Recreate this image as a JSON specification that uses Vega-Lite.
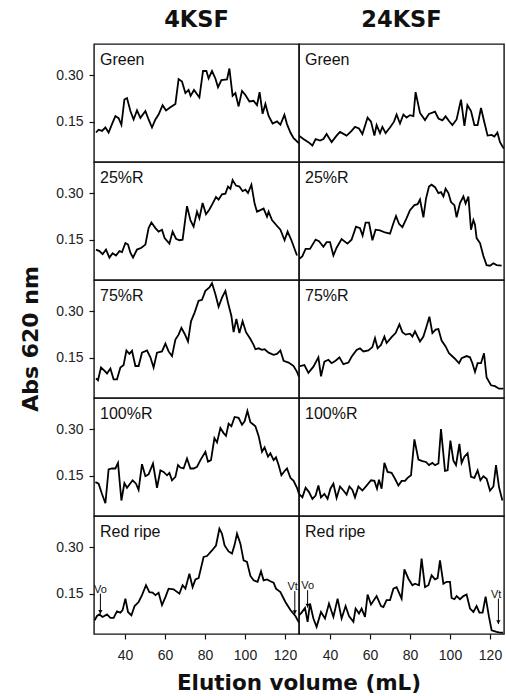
{
  "$schema": "https://vega.github.io/schema/vega-lite/v6.json",
  "padding": {"left": 19, "top": 8, "right": 0, "bottom": 0},
  "background": "white",
  "bounds": "flush",
  "data": {"values": [
    {"fiber":"4KSF","stage":"Green","vol":25.5,"abs":0.115},{"fiber":"4KSF","stage":"Green","vol":26.8,"abs":0.124},{"fiber":"4KSF","stage":"Green","vol":28.5,"abs":0.12},{"fiber":"4KSF","stage":"Green","vol":30.2,"abs":0.131},{"fiber":"4KSF","stage":"Green","vol":31.8,"abs":0.115},{"fiber":"4KSF","stage":"Green","vol":33.5,"abs":0.142},{"fiber":"4KSF","stage":"Green","vol":35.2,"abs":0.168},{"fiber":"4KSF","stage":"Green","vol":36.8,"abs":0.161},{"fiber":"4KSF","stage":"Green","vol":38.2,"abs":0.14},{"fiber":"4KSF","stage":"Green","vol":39.7,"abs":0.221},{"fiber":"4KSF","stage":"Green","vol":41.0,"abs":0.226},{"fiber":"4KSF","stage":"Green","vol":42.7,"abs":0.184},{"fiber":"4KSF","stage":"Green","vol":44.3,"abs":0.157},{"fiber":"4KSF","stage":"Green","vol":46.0,"abs":0.186},{"fiber":"4KSF","stage":"Green","vol":47.7,"abs":0.162},{"fiber":"4KSF","stage":"Green","vol":50.2,"abs":0.184},{"fiber":"4KSF","stage":"Green","vol":51.8,"abs":0.157},{"fiber":"4KSF","stage":"Green","vol":53.5,"abs":0.131},{"fiber":"4KSF","stage":"Green","vol":55.2,"abs":0.157},{"fiber":"4KSF","stage":"Green","vol":56.8,"abs":0.173},{"fiber":"4KSF","stage":"Green","vol":58.8,"abs":0.203},{"fiber":"4KSF","stage":"Green","vol":60.5,"abs":0.186},{"fiber":"4KSF","stage":"Green","vol":62.7,"abs":0.196},{"fiber":"4KSF","stage":"Green","vol":65.2,"abs":0.207},{"fiber":"4KSF","stage":"Green","vol":66.8,"abs":0.287},{"fiber":"4KSF","stage":"Green","vol":68.5,"abs":0.279},{"fiber":"4KSF","stage":"Green","vol":70.2,"abs":0.242},{"fiber":"4KSF","stage":"Green","vol":71.8,"abs":0.252},{"fiber":"4KSF","stage":"Green","vol":72.8,"abs":0.233},{"fiber":"4KSF","stage":"Green","vol":74.5,"abs":0.252},{"fiber":"4KSF","stage":"Green","vol":77.2,"abs":0.228},{"fiber":"4KSF","stage":"Green","vol":79.0,"abs":0.313},{"fiber":"4KSF","stage":"Green","vol":80.7,"abs":0.313},{"fiber":"4KSF","stage":"Green","vol":81.8,"abs":0.289},{"fiber":"4KSF","stage":"Green","vol":83.5,"abs":0.313},{"fiber":"4KSF","stage":"Green","vol":85.2,"abs":0.289},{"fiber":"4KSF","stage":"Green","vol":86.5,"abs":0.261},{"fiber":"4KSF","stage":"Green","vol":88.2,"abs":0.284},{"fiber":"4KSF","stage":"Green","vol":91.0,"abs":0.286},{"fiber":"4KSF","stage":"Green","vol":92.2,"abs":0.321},{"fiber":"4KSF","stage":"Green","vol":93.8,"abs":0.233},{"fiber":"4KSF","stage":"Green","vol":95.2,"abs":0.242},{"fiber":"4KSF","stage":"Green","vol":96.8,"abs":0.199},{"fiber":"4KSF","stage":"Green","vol":98.5,"abs":0.249},{"fiber":"4KSF","stage":"Green","vol":100.2,"abs":0.236},{"fiber":"4KSF","stage":"Green","vol":102.2,"abs":0.215},{"fiber":"4KSF","stage":"Green","vol":104.3,"abs":0.217},{"fiber":"4KSF","stage":"Green","vol":106.0,"abs":0.203},{"fiber":"4KSF","stage":"Green","vol":107.3,"abs":0.245},{"fiber":"4KSF","stage":"Green","vol":108.8,"abs":0.175},{"fiber":"4KSF","stage":"Green","vol":110.2,"abs":0.207},{"fiber":"4KSF","stage":"Green","vol":111.8,"abs":0.168},{"fiber":"4KSF","stage":"Green","vol":113.8,"abs":0.144},{"fiber":"4KSF","stage":"Green","vol":116.0,"abs":0.151},{"fiber":"4KSF","stage":"Green","vol":117.7,"abs":0.14},{"fiber":"4KSF","stage":"Green","vol":119.7,"abs":0.172},{"fiber":"4KSF","stage":"Green","vol":121.0,"abs":0.142},{"fiber":"4KSF","stage":"Green","vol":122.7,"abs":0.115},{"fiber":"4KSF","stage":"Green","vol":124.3,"abs":0.097},{"fiber":"4KSF","stage":"Green","vol":127.0,"abs":0.08},

    {"fiber":"24KSF","stage":"Green","vol":24.5,"abs":0.105},{"fiber":"24KSF","stage":"Green","vol":26.7,"abs":0.094},{"fiber":"24KSF","stage":"Green","vol":29.2,"abs":0.084},{"fiber":"24KSF","stage":"Green","vol":31.2,"abs":0.073},{"fiber":"24KSF","stage":"Green","vol":32.8,"abs":0.094},{"fiber":"24KSF","stage":"Green","vol":35.0,"abs":0.089},{"fiber":"24KSF","stage":"Green","vol":36.7,"abs":0.094},{"fiber":"24KSF","stage":"Green","vol":38.3,"abs":0.11},{"fiber":"24KSF","stage":"Green","vol":40.8,"abs":0.084},{"fiber":"24KSF","stage":"Green","vol":43.3,"abs":0.105},{"fiber":"24KSF","stage":"Green","vol":45.0,"abs":0.117},{"fiber":"24KSF","stage":"Green","vol":48.3,"abs":0.105},{"fiber":"24KSF","stage":"Green","vol":50.8,"abs":0.12},{"fiber":"24KSF","stage":"Green","vol":52.5,"abs":0.133},{"fiber":"24KSF","stage":"Green","vol":54.5,"abs":0.128},{"fiber":"24KSF","stage":"Green","vol":56.2,"abs":0.11},{"fiber":"24KSF","stage":"Green","vol":58.8,"abs":0.163},{"fiber":"24KSF","stage":"Green","vol":60.5,"abs":0.15},{"fiber":"24KSF","stage":"Green","vol":62.2,"abs":0.105},{"fiber":"24KSF","stage":"Green","vol":63.3,"abs":0.139},{"fiber":"24KSF","stage":"Green","vol":65.0,"abs":0.113},{"fiber":"24KSF","stage":"Green","vol":66.2,"abs":0.133},{"fiber":"24KSF","stage":"Green","vol":67.8,"abs":0.113},{"fiber":"24KSF","stage":"Green","vol":70.0,"abs":0.131},{"fiber":"24KSF","stage":"Green","vol":72.0,"abs":0.15},{"fiber":"24KSF","stage":"Green","vol":73.3,"abs":0.173},{"fiber":"24KSF","stage":"Green","vol":75.0,"abs":0.144},{"fiber":"24KSF","stage":"Green","vol":76.7,"abs":0.173},{"fiber":"24KSF","stage":"Green","vol":78.3,"abs":0.163},{"fiber":"24KSF","stage":"Green","vol":80.0,"abs":0.171},{"fiber":"24KSF","stage":"Green","vol":81.7,"abs":0.168},{"fiber":"24KSF","stage":"Green","vol":82.8,"abs":0.245},{"fiber":"24KSF","stage":"Green","vol":85.0,"abs":0.178},{"fiber":"24KSF","stage":"Green","vol":87.5,"abs":0.155},{"fiber":"24KSF","stage":"Green","vol":89.5,"abs":0.175},{"fiber":"24KSF","stage":"Green","vol":92.5,"abs":0.182},{"fiber":"24KSF","stage":"Green","vol":94.2,"abs":0.16},{"fiber":"24KSF","stage":"Green","vol":96.2,"abs":0.154},{"fiber":"24KSF","stage":"Green","vol":97.8,"abs":0.167},{"fiber":"24KSF","stage":"Green","vol":99.5,"abs":0.152},{"fiber":"24KSF","stage":"Green","vol":101.2,"abs":0.139},{"fiber":"24KSF","stage":"Green","vol":103.3,"abs":0.157},{"fiber":"24KSF","stage":"Green","vol":105.5,"abs":0.221},{"fiber":"24KSF","stage":"Green","vol":107.2,"abs":0.136},{"fiber":"24KSF","stage":"Green","vol":108.7,"abs":0.203},{"fiber":"24KSF","stage":"Green","vol":110.5,"abs":0.184},{"fiber":"24KSF","stage":"Green","vol":112.2,"abs":0.139},{"fiber":"24KSF","stage":"Green","vol":113.8,"abs":0.139},{"fiber":"24KSF","stage":"Green","vol":115.5,"abs":0.194},{"fiber":"24KSF","stage":"Green","vol":117.2,"abs":0.147},{"fiber":"24KSF","stage":"Green","vol":118.8,"abs":0.105},{"fiber":"24KSF","stage":"Green","vol":120.8,"abs":0.107},{"fiber":"24KSF","stage":"Green","vol":122.2,"abs":0.102},{"fiber":"24KSF","stage":"Green","vol":123.7,"abs":0.115},{"fiber":"24KSF","stage":"Green","vol":125.0,"abs":0.084},{"fiber":"24KSF","stage":"Green","vol":126.9,"abs":0.063},

    {"fiber":"4KSF","stage":"25%R","vol":25.5,"abs":0.118},{"fiber":"4KSF","stage":"25%R","vol":27.2,"abs":0.113},{"fiber":"4KSF","stage":"25%R","vol":28.8,"abs":0.103},{"fiber":"4KSF","stage":"25%R","vol":30.5,"abs":0.118},{"fiber":"4KSF","stage":"25%R","vol":32.2,"abs":0.092},{"fiber":"4KSF","stage":"25%R","vol":33.8,"abs":0.106},{"fiber":"4KSF","stage":"25%R","vol":35.5,"abs":0.099},{"fiber":"4KSF","stage":"25%R","vol":37.2,"abs":0.113},{"fiber":"4KSF","stage":"25%R","vol":38.5,"abs":0.11},{"fiber":"4KSF","stage":"25%R","vol":40.2,"abs":0.139},{"fiber":"4KSF","stage":"25%R","vol":41.5,"abs":0.134},{"fiber":"4KSF","stage":"25%R","vol":42.7,"abs":0.108},{"fiber":"4KSF","stage":"25%R","vol":44.0,"abs":0.092},{"fiber":"4KSF","stage":"25%R","vol":46.0,"abs":0.118},{"fiber":"4KSF","stage":"25%R","vol":48.2,"abs":0.124},{"fiber":"4KSF","stage":"25%R","vol":50.2,"abs":0.134},{"fiber":"4KSF","stage":"25%R","vol":51.8,"abs":0.187},{"fiber":"4KSF","stage":"25%R","vol":53.2,"abs":0.205},{"fiber":"4KSF","stage":"25%R","vol":55.2,"abs":0.187},{"fiber":"4KSF","stage":"25%R","vol":56.8,"abs":0.176},{"fiber":"4KSF","stage":"25%R","vol":58.5,"abs":0.182},{"fiber":"4KSF","stage":"25%R","vol":59.8,"abs":0.155},{"fiber":"4KSF","stage":"25%R","vol":62.2,"abs":0.137},{"fiber":"4KSF","stage":"25%R","vol":63.8,"abs":0.176},{"fiber":"4KSF","stage":"25%R","vol":65.5,"abs":0.153},{"fiber":"4KSF","stage":"25%R","vol":67.2,"abs":0.148},{"fiber":"4KSF","stage":"25%R","vol":68.8,"abs":0.15},{"fiber":"4KSF","stage":"25%R","vol":71.0,"abs":0.258},{"fiber":"4KSF","stage":"25%R","vol":72.7,"abs":0.213},{"fiber":"4KSF","stage":"25%R","vol":74.3,"abs":0.192},{"fiber":"4KSF","stage":"25%R","vol":76.0,"abs":0.24},{"fiber":"4KSF","stage":"25%R","vol":77.2,"abs":0.219},{"fiber":"4KSF","stage":"25%R","vol":78.8,"abs":0.268},{"fiber":"4KSF","stage":"25%R","vol":80.5,"abs":0.232},{"fiber":"4KSF","stage":"25%R","vol":82.2,"abs":0.247},{"fiber":"4KSF","stage":"25%R","vol":83.8,"abs":0.266},{"fiber":"4KSF","stage":"25%R","vol":85.5,"abs":0.287},{"fiber":"4KSF","stage":"25%R","vol":86.8,"abs":0.279},{"fiber":"4KSF","stage":"25%R","vol":88.5,"abs":0.296},{"fiber":"4KSF","stage":"25%R","vol":90.2,"abs":0.298},{"fiber":"4KSF","stage":"25%R","vol":91.5,"abs":0.321},{"fiber":"4KSF","stage":"25%R","vol":92.7,"abs":0.314},{"fiber":"4KSF","stage":"25%R","vol":93.8,"abs":0.342},{"fiber":"4KSF","stage":"25%R","vol":95.5,"abs":0.324},{"fiber":"4KSF","stage":"25%R","vol":97.2,"abs":0.321},{"fiber":"4KSF","stage":"25%R","vol":98.8,"abs":0.306},{"fiber":"4KSF","stage":"25%R","vol":100.2,"abs":0.311},{"fiber":"4KSF","stage":"25%R","vol":101.5,"abs":0.3},{"fiber":"4KSF","stage":"25%R","vol":103.2,"abs":0.327},{"fiber":"4KSF","stage":"25%R","vol":104.8,"abs":0.266},{"fiber":"4KSF","stage":"25%R","vol":106.0,"abs":0.24},{"fiber":"4KSF","stage":"25%R","vol":107.7,"abs":0.245},{"fiber":"4KSF","stage":"25%R","vol":109.3,"abs":0.25},{"fiber":"4KSF","stage":"25%R","vol":111.0,"abs":0.224},{"fiber":"4KSF","stage":"25%R","vol":111.8,"abs":0.24},{"fiber":"4KSF","stage":"25%R","vol":113.5,"abs":0.213},{"fiber":"4KSF","stage":"25%R","vol":115.5,"abs":0.198},{"fiber":"4KSF","stage":"25%R","vol":117.7,"abs":0.182},{"fiber":"4KSF","stage":"25%R","vol":119.8,"abs":0.148},{"fiber":"4KSF","stage":"25%R","vol":121.3,"abs":0.176},{"fiber":"4KSF","stage":"25%R","vol":123.2,"abs":0.148},{"fiber":"4KSF","stage":"25%R","vol":126.0,"abs":0.099},

    {"fiber":"24KSF","stage":"25%R","vol":24.5,"abs":0.087},{"fiber":"24KSF","stage":"25%R","vol":26.2,"abs":0.097},{"fiber":"24KSF","stage":"25%R","vol":27.8,"abs":0.12},{"fiber":"24KSF","stage":"25%R","vol":30.0,"abs":0.12},{"fiber":"24KSF","stage":"25%R","vol":32.8,"abs":0.15},{"fiber":"24KSF","stage":"25%R","vol":34.5,"abs":0.145},{"fiber":"24KSF","stage":"25%R","vol":36.7,"abs":0.127},{"fiber":"24KSF","stage":"25%R","vol":38.3,"abs":0.142},{"fiber":"24KSF","stage":"25%R","vol":40.0,"abs":0.142},{"fiber":"24KSF","stage":"25%R","vol":41.7,"abs":0.099},{"fiber":"24KSF","stage":"25%R","vol":43.3,"abs":0.124},{"fiber":"24KSF","stage":"25%R","vol":45.8,"abs":0.152},{"fiber":"24KSF","stage":"25%R","vol":48.7,"abs":0.137},{"fiber":"24KSF","stage":"25%R","vol":50.8,"abs":0.15},{"fiber":"24KSF","stage":"25%R","vol":53.0,"abs":0.192},{"fiber":"24KSF","stage":"25%R","vol":55.0,"abs":0.187},{"fiber":"24KSF","stage":"25%R","vol":56.3,"abs":0.163},{"fiber":"24KSF","stage":"25%R","vol":57.8,"abs":0.205},{"fiber":"24KSF","stage":"25%R","vol":59.5,"abs":0.205},{"fiber":"24KSF","stage":"25%R","vol":61.2,"abs":0.148},{"fiber":"24KSF","stage":"25%R","vol":62.8,"abs":0.182},{"fiber":"24KSF","stage":"25%R","vol":65.0,"abs":0.18},{"fiber":"24KSF","stage":"25%R","vol":67.5,"abs":0.173},{"fiber":"24KSF","stage":"25%R","vol":70.0,"abs":0.169},{"fiber":"24KSF","stage":"25%R","vol":71.7,"abs":0.203},{"fiber":"24KSF","stage":"25%R","vol":73.0,"abs":0.226},{"fiber":"24KSF","stage":"25%R","vol":74.5,"abs":0.201},{"fiber":"24KSF","stage":"25%R","vol":76.2,"abs":0.19},{"fiber":"24KSF","stage":"25%R","vol":78.3,"abs":0.219},{"fiber":"24KSF","stage":"25%R","vol":80.0,"abs":0.245},{"fiber":"24KSF","stage":"25%R","vol":82.2,"abs":0.261},{"fiber":"24KSF","stage":"25%R","vol":83.8,"abs":0.264},{"fiber":"24KSF","stage":"25%R","vol":85.0,"abs":0.279},{"fiber":"24KSF","stage":"25%R","vol":86.7,"abs":0.222},{"fiber":"24KSF","stage":"25%R","vol":88.0,"abs":0.282},{"fiber":"24KSF","stage":"25%R","vol":89.5,"abs":0.321},{"fiber":"24KSF","stage":"25%R","vol":90.8,"abs":0.327},{"fiber":"24KSF","stage":"25%R","vol":92.5,"abs":0.319},{"fiber":"24KSF","stage":"25%R","vol":94.2,"abs":0.3},{"fiber":"24KSF","stage":"25%R","vol":95.5,"abs":0.303},{"fiber":"24KSF","stage":"25%R","vol":96.7,"abs":0.289},{"fiber":"24KSF","stage":"25%R","vol":97.8,"abs":0.314},{"fiber":"24KSF","stage":"25%R","vol":99.2,"abs":0.3},{"fiber":"24KSF","stage":"25%R","vol":100.5,"abs":0.271},{"fiber":"24KSF","stage":"25%R","vol":102.2,"abs":0.261},{"fiber":"24KSF","stage":"25%R","vol":103.3,"abs":0.222},{"fiber":"24KSF","stage":"25%R","vol":105.0,"abs":0.268},{"fiber":"24KSF","stage":"25%R","vol":106.7,"abs":0.289},{"fiber":"24KSF","stage":"25%R","vol":107.8,"abs":0.266},{"fiber":"24KSF","stage":"25%R","vol":109.2,"abs":0.289},{"fiber":"24KSF","stage":"25%R","vol":110.5,"abs":0.182},{"fiber":"24KSF","stage":"25%R","vol":111.7,"abs":0.213},{"fiber":"24KSF","stage":"25%R","vol":112.5,"abs":0.198},{"fiber":"24KSF","stage":"25%R","vol":113.3,"abs":0.155},{"fiber":"24KSF","stage":"25%R","vol":115.0,"abs":0.139},{"fiber":"24KSF","stage":"25%R","vol":116.7,"abs":0.097},{"fiber":"24KSF","stage":"25%R","vol":118.3,"abs":0.068},{"fiber":"24KSF","stage":"25%R","vol":120.0,"abs":0.066},{"fiber":"24KSF","stage":"25%R","vol":121.7,"abs":0.074},{"fiber":"24KSF","stage":"25%R","vol":123.3,"abs":0.068},{"fiber":"24KSF","stage":"25%R","vol":125.8,"abs":0.066},

    {"fiber":"4KSF","stage":"75%R","vol":25.5,"abs":0.083},{"fiber":"4KSF","stage":"75%R","vol":26.5,"abs":0.077},{"fiber":"4KSF","stage":"75%R","vol":28.0,"abs":0.118},{"fiber":"4KSF","stage":"75%R","vol":29.7,"abs":0.108},{"fiber":"4KSF","stage":"75%R","vol":31.0,"abs":0.099},{"fiber":"4KSF","stage":"75%R","vol":32.7,"abs":0.115},{"fiber":"4KSF","stage":"75%R","vol":34.3,"abs":0.08},{"fiber":"4KSF","stage":"75%R","vol":36.0,"abs":0.08},{"fiber":"4KSF","stage":"75%R","vol":37.7,"abs":0.118},{"fiber":"4KSF","stage":"75%R","vol":39.3,"abs":0.126},{"fiber":"4KSF","stage":"75%R","vol":40.7,"abs":0.173},{"fiber":"4KSF","stage":"75%R","vol":42.2,"abs":0.162},{"fiber":"4KSF","stage":"75%R","vol":43.5,"abs":0.172},{"fiber":"4KSF","stage":"75%R","vol":45.2,"abs":0.123},{"fiber":"4KSF","stage":"75%R","vol":46.8,"abs":0.123},{"fiber":"4KSF","stage":"75%R","vol":48.5,"abs":0.166},{"fiber":"4KSF","stage":"75%R","vol":51.0,"abs":0.173},{"fiber":"4KSF","stage":"75%R","vol":52.7,"abs":0.151},{"fiber":"4KSF","stage":"75%R","vol":54.3,"abs":0.118},{"fiber":"4KSF","stage":"75%R","vol":56.0,"abs":0.166},{"fiber":"4KSF","stage":"75%R","vol":58.5,"abs":0.17},{"fiber":"4KSF","stage":"75%R","vol":60.2,"abs":0.195},{"fiber":"4KSF","stage":"75%R","vol":61.8,"abs":0.17},{"fiber":"4KSF","stage":"75%R","vol":63.5,"abs":0.155},{"fiber":"4KSF","stage":"75%R","vol":65.2,"abs":0.208},{"fiber":"4KSF","stage":"75%R","vol":66.8,"abs":0.224},{"fiber":"4KSF","stage":"75%R","vol":68.2,"abs":0.246},{"fiber":"4KSF","stage":"75%R","vol":69.8,"abs":0.227},{"fiber":"4KSF","stage":"75%R","vol":71.5,"abs":0.202},{"fiber":"4KSF","stage":"75%R","vol":73.0,"abs":0.267},{"fiber":"4KSF","stage":"75%R","vol":74.8,"abs":0.295},{"fiber":"4KSF","stage":"75%R","vol":76.8,"abs":0.333},{"fiber":"4KSF","stage":"75%R","vol":78.5,"abs":0.336},{"fiber":"4KSF","stage":"75%R","vol":80.2,"abs":0.365},{"fiber":"4KSF","stage":"75%R","vol":82.2,"abs":0.376},{"fiber":"4KSF","stage":"75%R","vol":83.5,"abs":0.39},{"fiber":"4KSF","stage":"75%R","vol":85.2,"abs":0.354},{"fiber":"4KSF","stage":"75%R","vol":86.8,"abs":0.314},{"fiber":"4KSF","stage":"75%R","vol":88.5,"abs":0.343},{"fiber":"4KSF","stage":"75%R","vol":90.2,"abs":0.365},{"fiber":"4KSF","stage":"75%R","vol":91.5,"abs":0.327},{"fiber":"4KSF","stage":"75%R","vol":93.2,"abs":0.284},{"fiber":"4KSF","stage":"75%R","vol":94.3,"abs":0.232},{"fiber":"4KSF","stage":"75%R","vol":95.7,"abs":0.275},{"fiber":"4KSF","stage":"75%R","vol":97.2,"abs":0.229},{"fiber":"4KSF","stage":"75%R","vol":98.8,"abs":0.267},{"fiber":"4KSF","stage":"75%R","vol":100.5,"abs":0.232},{"fiber":"4KSF","stage":"75%R","vol":102.7,"abs":0.21},{"fiber":"4KSF","stage":"75%R","vol":104.3,"abs":0.191},{"fiber":"4KSF","stage":"75%R","vol":105.2,"abs":0.177},{"fiber":"4KSF","stage":"75%R","vol":106.8,"abs":0.18},{"fiber":"4KSF","stage":"75%R","vol":108.5,"abs":0.175},{"fiber":"4KSF","stage":"75%R","vol":109.8,"abs":0.177},{"fiber":"4KSF","stage":"75%R","vol":111.8,"abs":0.166},{"fiber":"4KSF","stage":"75%R","vol":114.3,"abs":0.159},{"fiber":"4KSF","stage":"75%R","vol":116.0,"abs":0.162},{"fiber":"4KSF","stage":"75%R","vol":117.7,"abs":0.173},{"fiber":"4KSF","stage":"75%R","vol":119.3,"abs":0.14},{"fiber":"4KSF","stage":"75%R","vol":121.8,"abs":0.134},{"fiber":"4KSF","stage":"75%R","vol":124.3,"abs":0.123},{"fiber":"4KSF","stage":"75%R","vol":126.0,"abs":0.104},{"fiber":"4KSF","stage":"75%R","vol":127.0,"abs":0.088},

    {"fiber":"24KSF","stage":"75%R","vol":25.0,"abs":0.123},{"fiber":"24KSF","stage":"75%R","vol":27.2,"abs":0.126},{"fiber":"24KSF","stage":"75%R","vol":29.2,"abs":0.101},{"fiber":"24KSF","stage":"75%R","vol":31.7,"abs":0.121},{"fiber":"24KSF","stage":"75%R","vol":34.2,"abs":0.151},{"fiber":"24KSF","stage":"75%R","vol":35.5,"abs":0.09},{"fiber":"24KSF","stage":"75%R","vol":37.2,"abs":0.137},{"fiber":"24KSF","stage":"75%R","vol":39.2,"abs":0.143},{"fiber":"24KSF","stage":"75%R","vol":40.8,"abs":0.132},{"fiber":"24KSF","stage":"75%R","vol":42.8,"abs":0.14},{"fiber":"24KSF","stage":"75%R","vol":44.7,"abs":0.151},{"fiber":"24KSF","stage":"75%R","vol":46.7,"abs":0.129},{"fiber":"24KSF","stage":"75%R","vol":49.2,"abs":0.134},{"fiber":"24KSF","stage":"75%R","vol":50.8,"abs":0.153},{"fiber":"24KSF","stage":"75%R","vol":53.3,"abs":0.175},{"fiber":"24KSF","stage":"75%R","vol":55.0,"abs":0.18},{"fiber":"24KSF","stage":"75%R","vol":56.7,"abs":0.17},{"fiber":"24KSF","stage":"75%R","vol":59.2,"abs":0.173},{"fiber":"24KSF","stage":"75%R","vol":61.2,"abs":0.184},{"fiber":"24KSF","stage":"75%R","vol":62.5,"abs":0.213},{"fiber":"24KSF","stage":"75%R","vol":63.8,"abs":0.18},{"fiber":"24KSF","stage":"75%R","vol":65.5,"abs":0.191},{"fiber":"24KSF","stage":"75%R","vol":67.2,"abs":0.218},{"fiber":"24KSF","stage":"75%R","vol":68.3,"abs":0.197},{"fiber":"24KSF","stage":"75%R","vol":70.8,"abs":0.216},{"fiber":"24KSF","stage":"75%R","vol":72.8,"abs":0.229},{"fiber":"24KSF","stage":"75%R","vol":74.7,"abs":0.257},{"fiber":"24KSF","stage":"75%R","vol":76.2,"abs":0.232},{"fiber":"24KSF","stage":"75%R","vol":77.8,"abs":0.224},{"fiber":"24KSF","stage":"75%R","vol":80.0,"abs":0.227},{"fiber":"24KSF","stage":"75%R","vol":81.2,"abs":0.218},{"fiber":"24KSF","stage":"75%R","vol":82.5,"abs":0.235},{"fiber":"24KSF","stage":"75%R","vol":85.0,"abs":0.202},{"fiber":"24KSF","stage":"75%R","vol":86.7,"abs":0.218},{"fiber":"24KSF","stage":"75%R","vol":88.3,"abs":0.251},{"fiber":"24KSF","stage":"75%R","vol":89.7,"abs":0.282},{"fiber":"24KSF","stage":"75%R","vol":91.2,"abs":0.229},{"fiber":"24KSF","stage":"75%R","vol":92.8,"abs":0.24},{"fiber":"24KSF","stage":"75%R","vol":94.2,"abs":0.242},{"fiber":"24KSF","stage":"75%R","vol":95.8,"abs":0.205},{"fiber":"24KSF","stage":"75%R","vol":97.8,"abs":0.186},{"fiber":"24KSF","stage":"75%R","vol":99.5,"abs":0.164},{"fiber":"24KSF","stage":"75%R","vol":102.2,"abs":0.148},{"fiber":"24KSF","stage":"75%R","vol":104.5,"abs":0.132},{"fiber":"24KSF","stage":"75%R","vol":105.8,"abs":0.148},{"fiber":"24KSF","stage":"75%R","vol":108.3,"abs":0.155},{"fiber":"24KSF","stage":"75%R","vol":110.0,"abs":0.151},{"fiber":"24KSF","stage":"75%R","vol":111.2,"abs":0.132},{"fiber":"24KSF","stage":"75%R","vol":112.5,"abs":0.104},{"fiber":"24KSF","stage":"75%R","vol":113.8,"abs":0.132},{"fiber":"24KSF","stage":"75%R","vol":115.5,"abs":0.132},{"fiber":"24KSF","stage":"75%R","vol":117.0,"abs":0.164},{"fiber":"24KSF","stage":"75%R","vol":118.3,"abs":0.086},{"fiber":"24KSF","stage":"75%R","vol":120.5,"abs":0.061},{"fiber":"24KSF","stage":"75%R","vol":122.5,"abs":0.058},{"fiber":"24KSF","stage":"75%R","vol":124.5,"abs":0.05},{"fiber":"24KSF","stage":"75%R","vol":126.7,"abs":0.05},

    {"fiber":"4KSF","stage":"100%R","vol":25.2,"abs":0.129},{"fiber":"4KSF","stage":"100%R","vol":26.8,"abs":0.124},{"fiber":"4KSF","stage":"100%R","vol":28.5,"abs":0.091},{"fiber":"4KSF","stage":"100%R","vol":30.2,"abs":0.061},{"fiber":"4KSF","stage":"100%R","vol":31.8,"abs":0.17},{"fiber":"4KSF","stage":"100%R","vol":33.5,"abs":0.173},{"fiber":"4KSF","stage":"100%R","vol":35.2,"abs":0.173},{"fiber":"4KSF","stage":"100%R","vol":36.5,"abs":0.191},{"fiber":"4KSF","stage":"100%R","vol":38.2,"abs":0.07},{"fiber":"4KSF","stage":"100%R","vol":39.7,"abs":0.126},{"fiber":"4KSF","stage":"100%R","vol":41.0,"abs":0.111},{"fiber":"4KSF","stage":"100%R","vol":43.8,"abs":0.135},{"fiber":"4KSF","stage":"100%R","vol":45.5,"abs":0.124},{"fiber":"4KSF","stage":"100%R","vol":46.8,"abs":0.104},{"fiber":"4KSF","stage":"100%R","vol":48.5,"abs":0.187},{"fiber":"4KSF","stage":"100%R","vol":50.2,"abs":0.148},{"fiber":"4KSF","stage":"100%R","vol":51.8,"abs":0.154},{"fiber":"4KSF","stage":"100%R","vol":54.0,"abs":0.189},{"fiber":"4KSF","stage":"100%R","vol":56.0,"abs":0.111},{"fiber":"4KSF","stage":"100%R","vol":57.7,"abs":0.167},{"fiber":"4KSF","stage":"100%R","vol":59.3,"abs":0.162},{"fiber":"4KSF","stage":"100%R","vol":61.0,"abs":0.151},{"fiber":"4KSF","stage":"100%R","vol":62.2,"abs":0.159},{"fiber":"4KSF","stage":"100%R","vol":63.5,"abs":0.135},{"fiber":"4KSF","stage":"100%R","vol":65.2,"abs":0.146},{"fiber":"4KSF","stage":"100%R","vol":66.5,"abs":0.184},{"fiber":"4KSF","stage":"100%R","vol":67.7,"abs":0.176},{"fiber":"4KSF","stage":"100%R","vol":69.3,"abs":0.173},{"fiber":"4KSF","stage":"100%R","vol":71.0,"abs":0.205},{"fiber":"4KSF","stage":"100%R","vol":72.7,"abs":0.173},{"fiber":"4KSF","stage":"100%R","vol":74.3,"abs":0.173},{"fiber":"4KSF","stage":"100%R","vol":76.0,"abs":0.178},{"fiber":"4KSF","stage":"100%R","vol":77.7,"abs":0.2},{"fiber":"4KSF","stage":"100%R","vol":80.2,"abs":0.227},{"fiber":"4KSF","stage":"100%R","vol":81.5,"abs":0.195},{"fiber":"4KSF","stage":"100%R","vol":83.0,"abs":0.2},{"fiber":"4KSF","stage":"100%R","vol":84.7,"abs":0.271},{"fiber":"4KSF","stage":"100%R","vol":86.0,"abs":0.257},{"fiber":"4KSF","stage":"100%R","vol":87.7,"abs":0.303},{"fiber":"4KSF","stage":"100%R","vol":89.3,"abs":0.287},{"fiber":"4KSF","stage":"100%R","vol":90.5,"abs":0.278},{"fiber":"4KSF","stage":"100%R","vol":91.8,"abs":0.317},{"fiber":"4KSF","stage":"100%R","vol":93.2,"abs":0.309},{"fiber":"4KSF","stage":"100%R","vol":94.8,"abs":0.339},{"fiber":"4KSF","stage":"100%R","vol":96.8,"abs":0.336},{"fiber":"4KSF","stage":"100%R","vol":98.5,"abs":0.314},{"fiber":"4KSF","stage":"100%R","vol":99.8,"abs":0.325},{"fiber":"4KSF","stage":"100%R","vol":101.2,"abs":0.358},{"fiber":"4KSF","stage":"100%R","vol":102.7,"abs":0.322},{"fiber":"4KSF","stage":"100%R","vol":105.2,"abs":0.309},{"fiber":"4KSF","stage":"100%R","vol":106.8,"abs":0.278},{"fiber":"4KSF","stage":"100%R","vol":108.5,"abs":0.227},{"fiber":"4KSF","stage":"100%R","vol":109.8,"abs":0.241},{"fiber":"4KSF","stage":"100%R","vol":111.5,"abs":0.211},{"fiber":"4KSF","stage":"100%R","vol":112.7,"abs":0.222},{"fiber":"4KSF","stage":"100%R","vol":114.3,"abs":0.2},{"fiber":"4KSF","stage":"100%R","vol":115.5,"abs":0.209},{"fiber":"4KSF","stage":"100%R","vol":116.8,"abs":0.184},{"fiber":"4KSF","stage":"100%R","vol":118.2,"abs":0.151},{"fiber":"4KSF","stage":"100%R","vol":119.8,"abs":0.165},{"fiber":"4KSF","stage":"100%R","vol":121.0,"abs":0.173},{"fiber":"4KSF","stage":"100%R","vol":122.7,"abs":0.143},{"fiber":"4KSF","stage":"100%R","vol":124.3,"abs":0.133},{"fiber":"4KSF","stage":"100%R","vol":126.0,"abs":0.111},{"fiber":"4KSF","stage":"100%R","vol":127.0,"abs":0.091},

    {"fiber":"24KSF","stage":"100%R","vol":24.5,"abs":0.091},{"fiber":"24KSF","stage":"100%R","vol":26.2,"abs":0.08},{"fiber":"24KSF","stage":"100%R","vol":27.8,"abs":0.111},{"fiber":"24KSF","stage":"100%R","vol":29.5,"abs":0.097},{"fiber":"24KSF","stage":"100%R","vol":31.2,"abs":0.075},{"fiber":"24KSF","stage":"100%R","vol":32.8,"abs":0.086},{"fiber":"24KSF","stage":"100%R","vol":34.2,"abs":0.118},{"fiber":"24KSF","stage":"100%R","vol":35.5,"abs":0.08},{"fiber":"24KSF","stage":"100%R","vol":37.2,"abs":0.091},{"fiber":"24KSF","stage":"100%R","vol":38.8,"abs":0.075},{"fiber":"24KSF","stage":"100%R","vol":40.2,"abs":0.108},{"fiber":"24KSF","stage":"100%R","vol":41.7,"abs":0.124},{"fiber":"24KSF","stage":"100%R","vol":43.3,"abs":0.078},{"fiber":"24KSF","stage":"100%R","vol":45.0,"abs":0.115},{"fiber":"24KSF","stage":"100%R","vol":46.7,"abs":0.102},{"fiber":"24KSF","stage":"100%R","vol":48.3,"abs":0.089},{"fiber":"24KSF","stage":"100%R","vol":49.7,"abs":0.115},{"fiber":"24KSF","stage":"100%R","vol":51.2,"abs":0.104},{"fiber":"24KSF","stage":"100%R","vol":52.5,"abs":0.08},{"fiber":"24KSF","stage":"100%R","vol":54.2,"abs":0.115},{"fiber":"24KSF","stage":"100%R","vol":56.2,"abs":0.102},{"fiber":"24KSF","stage":"100%R","vol":58.3,"abs":0.118},{"fiber":"24KSF","stage":"100%R","vol":60.5,"abs":0.135},{"fiber":"24KSF","stage":"100%R","vol":62.2,"abs":0.133},{"fiber":"24KSF","stage":"100%R","vol":63.5,"abs":0.108},{"fiber":"24KSF","stage":"100%R","vol":64.5,"abs":0.137},{"fiber":"24KSF","stage":"100%R","vol":65.8,"abs":0.108},{"fiber":"24KSF","stage":"100%R","vol":67.2,"abs":0.191},{"fiber":"24KSF","stage":"100%R","vol":68.8,"abs":0.162},{"fiber":"24KSF","stage":"100%R","vol":70.8,"abs":0.159},{"fiber":"24KSF","stage":"100%R","vol":72.5,"abs":0.14},{"fiber":"24KSF","stage":"100%R","vol":74.2,"abs":0.118},{"fiber":"24KSF","stage":"100%R","vol":75.8,"abs":0.133},{"fiber":"24KSF","stage":"100%R","vol":77.5,"abs":0.133},{"fiber":"24KSF","stage":"100%R","vol":78.8,"abs":0.143},{"fiber":"24KSF","stage":"100%R","vol":80.5,"abs":0.151},{"fiber":"24KSF","stage":"100%R","vol":82.2,"abs":0.267},{"fiber":"24KSF","stage":"100%R","vol":84.2,"abs":0.202},{"fiber":"24KSF","stage":"100%R","vol":86.2,"abs":0.197},{"fiber":"24KSF","stage":"100%R","vol":88.0,"abs":0.194},{"fiber":"24KSF","stage":"100%R","vol":89.5,"abs":0.184},{"fiber":"24KSF","stage":"100%R","vol":91.2,"abs":0.191},{"fiber":"24KSF","stage":"100%R","vol":92.5,"abs":0.184},{"fiber":"24KSF","stage":"100%R","vol":94.2,"abs":0.189},{"fiber":"24KSF","stage":"100%R","vol":95.5,"abs":0.3},{"fiber":"24KSF","stage":"100%R","vol":97.5,"abs":0.165},{"fiber":"24KSF","stage":"100%R","vol":98.8,"abs":0.167},{"fiber":"24KSF","stage":"100%R","vol":100.2,"abs":0.263},{"fiber":"24KSF","stage":"100%R","vol":101.7,"abs":0.198},{"fiber":"24KSF","stage":"100%R","vol":103.0,"abs":0.184},{"fiber":"24KSF","stage":"100%R","vol":104.7,"abs":0.252},{"fiber":"24KSF","stage":"100%R","vol":105.8,"abs":0.191},{"fiber":"24KSF","stage":"100%R","vol":107.2,"abs":0.211},{"fiber":"24KSF","stage":"100%R","vol":108.8,"abs":0.222},{"fiber":"24KSF","stage":"100%R","vol":110.5,"abs":0.146},{"fiber":"24KSF","stage":"100%R","vol":112.2,"abs":0.143},{"fiber":"24KSF","stage":"100%R","vol":113.8,"abs":0.167},{"fiber":"24KSF","stage":"100%R","vol":115.2,"abs":0.135},{"fiber":"24KSF","stage":"100%R","vol":116.7,"abs":0.148},{"fiber":"24KSF","stage":"100%R","vol":118.3,"abs":0.14},{"fiber":"24KSF","stage":"100%R","vol":120.0,"abs":0.102},{"fiber":"24KSF","stage":"100%R","vol":121.7,"abs":0.115},{"fiber":"24KSF","stage":"100%R","vol":123.0,"abs":0.184},{"fiber":"24KSF","stage":"100%R","vol":124.5,"abs":0.113},{"fiber":"24KSF","stage":"100%R","vol":126.2,"abs":0.07},

    {"fiber":"4KSF","stage":"Red ripe","vol":24.8,"abs":0.064},{"fiber":"4KSF","stage":"Red ripe","vol":26.0,"abs":0.078},{"fiber":"4KSF","stage":"Red ripe","vol":27.2,"abs":0.083},{"fiber":"4KSF","stage":"Red ripe","vol":28.8,"abs":0.075},{"fiber":"4KSF","stage":"Red ripe","vol":31.0,"abs":0.083},{"fiber":"4KSF","stage":"Red ripe","vol":32.7,"abs":0.072},{"fiber":"4KSF","stage":"Red ripe","vol":34.3,"abs":0.072},{"fiber":"4KSF","stage":"Red ripe","vol":36.0,"abs":0.093},{"fiber":"4KSF","stage":"Red ripe","vol":37.7,"abs":0.089},{"fiber":"4KSF","stage":"Red ripe","vol":38.8,"abs":0.097},{"fiber":"4KSF","stage":"Red ripe","vol":40.2,"abs":0.134},{"fiber":"4KSF","stage":"Red ripe","vol":41.5,"abs":0.091},{"fiber":"4KSF","stage":"Red ripe","vol":43.2,"abs":0.08},{"fiber":"4KSF","stage":"Red ripe","vol":44.8,"abs":0.11},{"fiber":"4KSF","stage":"Red ripe","vol":46.8,"abs":0.123},{"fiber":"4KSF","stage":"Red ripe","vol":48.5,"abs":0.145},{"fiber":"4KSF","stage":"Red ripe","vol":50.5,"abs":0.177},{"fiber":"4KSF","stage":"Red ripe","vol":52.2,"abs":0.155},{"fiber":"4KSF","stage":"Red ripe","vol":53.8,"abs":0.153},{"fiber":"4KSF","stage":"Red ripe","vol":55.2,"abs":0.145},{"fiber":"4KSF","stage":"Red ripe","vol":56.8,"abs":0.153},{"fiber":"4KSF","stage":"Red ripe","vol":58.5,"abs":0.113},{"fiber":"4KSF","stage":"Red ripe","vol":60.2,"abs":0.139},{"fiber":"4KSF","stage":"Red ripe","vol":61.8,"abs":0.166},{"fiber":"4KSF","stage":"Red ripe","vol":64.3,"abs":0.164},{"fiber":"4KSF","stage":"Red ripe","vol":67.2,"abs":0.15},{"fiber":"4KSF","stage":"Red ripe","vol":68.8,"abs":0.177},{"fiber":"4KSF","stage":"Red ripe","vol":70.2,"abs":0.166},{"fiber":"4KSF","stage":"Red ripe","vol":72.2,"abs":0.214},{"fiber":"4KSF","stage":"Red ripe","vol":73.8,"abs":0.171},{"fiber":"4KSF","stage":"Red ripe","vol":75.2,"abs":0.196},{"fiber":"4KSF","stage":"Red ripe","vol":76.8,"abs":0.2},{"fiber":"4KSF","stage":"Red ripe","vol":79.3,"abs":0.268},{"fiber":"4KSF","stage":"Red ripe","vol":81.0,"abs":0.271},{"fiber":"4KSF","stage":"Red ripe","vol":83.5,"abs":0.289},{"fiber":"4KSF","stage":"Red ripe","vol":85.5,"abs":0.305},{"fiber":"4KSF","stage":"Red ripe","vol":87.2,"abs":0.359},{"fiber":"4KSF","stage":"Red ripe","vol":88.5,"abs":0.343},{"fiber":"4KSF","stage":"Red ripe","vol":89.8,"abs":0.305},{"fiber":"4KSF","stage":"Red ripe","vol":91.8,"abs":0.286},{"fiber":"4KSF","stage":"Red ripe","vol":93.5,"abs":0.279},{"fiber":"4KSF","stage":"Red ripe","vol":94.8,"abs":0.307},{"fiber":"4KSF","stage":"Red ripe","vol":96.0,"abs":0.343},{"fiber":"4KSF","stage":"Red ripe","vol":97.7,"abs":0.311},{"fiber":"4KSF","stage":"Red ripe","vol":99.3,"abs":0.257},{"fiber":"4KSF","stage":"Red ripe","vol":101.0,"abs":0.252},{"fiber":"4KSF","stage":"Red ripe","vol":102.7,"abs":0.207},{"fiber":"4KSF","stage":"Red ripe","vol":104.3,"abs":0.193},{"fiber":"4KSF","stage":"Red ripe","vol":106.3,"abs":0.188},{"fiber":"4KSF","stage":"Red ripe","vol":108.0,"abs":0.222},{"fiber":"4KSF","stage":"Red ripe","vol":109.3,"abs":0.193},{"fiber":"4KSF","stage":"Red ripe","vol":111.0,"abs":0.196},{"fiber":"4KSF","stage":"Red ripe","vol":112.7,"abs":0.19},{"fiber":"4KSF","stage":"Red ripe","vol":114.3,"abs":0.185},{"fiber":"4KSF","stage":"Red ripe","vol":115.5,"abs":0.166},{"fiber":"4KSF","stage":"Red ripe","vol":117.7,"abs":0.155},{"fiber":"4KSF","stage":"Red ripe","vol":120.2,"abs":0.123},{"fiber":"4KSF","stage":"Red ripe","vol":122.7,"abs":0.097},{"fiber":"4KSF","stage":"Red ripe","vol":125.2,"abs":0.078},{"fiber":"4KSF","stage":"Red ripe","vol":127.0,"abs":0.057},

    {"fiber":"24KSF","stage":"Red ripe","vol":24.5,"abs":0.08},{"fiber":"24KSF","stage":"Red ripe","vol":25.8,"abs":0.089},{"fiber":"24KSF","stage":"Red ripe","vol":27.5,"abs":0.104},{"fiber":"24KSF","stage":"Red ripe","vol":28.8,"abs":0.059},{"fiber":"24KSF","stage":"Red ripe","vol":30.0,"abs":0.118},{"fiber":"24KSF","stage":"Red ripe","vol":31.7,"abs":0.07},{"fiber":"24KSF","stage":"Red ripe","vol":33.3,"abs":0.043},{"fiber":"24KSF","stage":"Red ripe","vol":35.5,"abs":0.091},{"fiber":"24KSF","stage":"Red ripe","vol":37.5,"abs":0.07},{"fiber":"24KSF","stage":"Red ripe","vol":39.5,"abs":0.118},{"fiber":"24KSF","stage":"Red ripe","vol":41.7,"abs":0.075},{"fiber":"24KSF","stage":"Red ripe","vol":43.8,"abs":0.134},{"fiber":"24KSF","stage":"Red ripe","vol":45.8,"abs":0.07},{"fiber":"24KSF","stage":"Red ripe","vol":47.8,"abs":0.11},{"fiber":"24KSF","stage":"Red ripe","vol":49.5,"abs":0.078},{"fiber":"24KSF","stage":"Red ripe","vol":51.7,"abs":0.059},{"fiber":"24KSF","stage":"Red ripe","vol":52.8,"abs":0.102},{"fiber":"24KSF","stage":"Red ripe","vol":54.5,"abs":0.086},{"fiber":"24KSF","stage":"Red ripe","vol":55.8,"abs":0.102},{"fiber":"24KSF","stage":"Red ripe","vol":57.5,"abs":0.075},{"fiber":"24KSF","stage":"Red ripe","vol":58.8,"abs":0.147},{"fiber":"24KSF","stage":"Red ripe","vol":60.5,"abs":0.115},{"fiber":"24KSF","stage":"Red ripe","vol":63.3,"abs":0.142},{"fiber":"24KSF","stage":"Red ripe","vol":65.5,"abs":0.11},{"fiber":"24KSF","stage":"Red ripe","vol":66.7,"abs":0.107},{"fiber":"24KSF","stage":"Red ripe","vol":68.3,"abs":0.129},{"fiber":"24KSF","stage":"Red ripe","vol":70.0,"abs":0.129},{"fiber":"24KSF","stage":"Red ripe","vol":71.7,"abs":0.166},{"fiber":"24KSF","stage":"Red ripe","vol":73.3,"abs":0.171},{"fiber":"24KSF","stage":"Red ripe","vol":75.8,"abs":0.134},{"fiber":"24KSF","stage":"Red ripe","vol":77.2,"abs":0.228},{"fiber":"24KSF","stage":"Red ripe","vol":79.2,"abs":0.198},{"fiber":"24KSF","stage":"Red ripe","vol":81.2,"abs":0.177},{"fiber":"24KSF","stage":"Red ripe","vol":82.5,"abs":0.182},{"fiber":"24KSF","stage":"Red ripe","vol":84.5,"abs":0.177},{"fiber":"24KSF","stage":"Red ripe","vol":85.8,"abs":0.263},{"fiber":"24KSF","stage":"Red ripe","vol":87.5,"abs":0.171},{"fiber":"24KSF","stage":"Red ripe","vol":89.2,"abs":0.177},{"fiber":"24KSF","stage":"Red ripe","vol":90.8,"abs":0.209},{"fiber":"24KSF","stage":"Red ripe","vol":92.5,"abs":0.196},{"fiber":"24KSF","stage":"Red ripe","vol":93.8,"abs":0.2},{"fiber":"24KSF","stage":"Red ripe","vol":95.0,"abs":0.257},{"fiber":"24KSF","stage":"Red ripe","vol":96.7,"abs":0.182},{"fiber":"24KSF","stage":"Red ripe","vol":98.3,"abs":0.188},{"fiber":"24KSF","stage":"Red ripe","vol":100.0,"abs":0.188},{"fiber":"24KSF","stage":"Red ripe","vol":100.8,"abs":0.136},{"fiber":"24KSF","stage":"Red ripe","vol":102.2,"abs":0.132},{"fiber":"24KSF","stage":"Red ripe","vol":103.3,"abs":0.142},{"fiber":"24KSF","stage":"Red ripe","vol":105.0,"abs":0.132},{"fiber":"24KSF","stage":"Red ripe","vol":106.7,"abs":0.142},{"fiber":"24KSF","stage":"Red ripe","vol":108.3,"abs":0.147},{"fiber":"24KSF","stage":"Red ripe","vol":110.0,"abs":0.102},{"fiber":"24KSF","stage":"Red ripe","vol":111.7,"abs":0.091},{"fiber":"24KSF","stage":"Red ripe","vol":113.3,"abs":0.11},{"fiber":"24KSF","stage":"Red ripe","vol":114.7,"abs":0.089},{"fiber":"24KSF","stage":"Red ripe","vol":116.3,"abs":0.089},{"fiber":"24KSF","stage":"Red ripe","vol":117.8,"abs":0.14},{"fiber":"24KSF","stage":"Red ripe","vol":119.5,"abs":0.075},{"fiber":"24KSF","stage":"Red ripe","vol":120.8,"abs":0.032},{"fiber":"24KSF","stage":"Red ripe","vol":123.3,"abs":0.027},{"fiber":"24KSF","stage":"Red ripe","vol":124.5,"abs":0.025},{"fiber":"24KSF","stage":"Red ripe","vol":126.5,"abs":0.024},

    {"fiber":"4KSF","stage":"Red ripe","tag":"Vo","vol":27.7,"top":0.15,"tip":0.085},
    {"fiber":"4KSF","stage":"Red ripe","tag":"Vt","vol":124.9,"top":0.158,"tip":0.084},
    {"fiber":"24KSF","stage":"Red ripe","tag":"Vo","vol":28.8,"top":0.161,"tip":0.105},
    {"fiber":"24KSF","stage":"Red ripe","tag":"Vt","vol":124.2,"top":0.134,"tip":0.052}
  ]},
  "facet": {
    "column": {
      "field": "fiber", "type": "nominal", "sort": ["4KSF", "24KSF"],
      "header": {
        "title": "Elution volume (mL)", "titleOrient": "bottom", "labelOrient": "top",
        "titleFont": "DejaVu Sans", "titleFontSize": 21.5, "titleFontWeight": "bold", "titleColor": "#111", "titlePadding": 1,
        "labelFont": "DejaVu Sans", "labelFontSize": 22.5, "labelFontWeight": "bold", "labelColor": "#111", "labelPadding": 13
      }
    },
    "row": {
      "field": "stage", "type": "nominal", "sort": ["Green", "25%R", "75%R", "100%R", "Red ripe"],
      "header": {
        "title": "Abs 620 nm", "titleOrient": "left", "labels": false,
        "titleFont": "DejaVu Sans", "titleFontSize": 22, "titleFontWeight": "bold", "titleColor": "#111", "titlePadding": 2
      }
    }
  },
  "spacing": {"row": 0, "column": 0},
  "spec": {
    "width": 205,
    "height": 118,
    "layer": [
      {
        "transform": [{"filter": "isValid(datum.abs)"}],
        "mark": {"type": "line", "color": "#000", "strokeWidth": 1.8, "strokeJoin": "miter", "clip": true},
        "encoding": {
          "x": {"field": "vol", "type": "quantitative",
                "scale": {"domain": [24.5, 127], "nice": false, "zero": false},
                "axis": {"values": [40, 60, 80, 100, 120], "title": null, "labelPadding": 9}},
          "y": {"field": "abs", "type": "quantitative",
                "scale": {"domain": [0.02, 0.4], "nice": false, "zero": false},
                "axis": {"values": [0.15, 0.3], "format": ".2f", "title": null, "labelPadding": 6}},
          "order": {"field": "vol", "type": "quantitative"}
        }
      },
      {
        "transform": [
          {"filter": "isValid(datum.abs)"},
          {"aggregate": [{"op": "count", "as": "n"}], "groupby": ["fiber", "stage"]}
        ],
        "mark": {"type": "text", "align": "left", "baseline": "top", "font": "Liberation Sans", "fontSize": 16, "color": "#111"},
        "encoding": {
          "x": {"datum": 27.5},
          "y": {"datum": 0.375},
          "text": {"field": "stage"}
        }
      },
      {
        "transform": [{"filter": "isValid(datum.tag)"}],
        "mark": {"type": "rule", "color": "#000", "strokeWidth": 1},
        "encoding": {
          "x": {"field": "vol", "type": "quantitative"},
          "y": {"field": "top", "type": "quantitative"},
          "y2": {"field": "tip"}
        }
      },
      {
        "transform": [{"filter": "isValid(datum.tag)"}],
        "mark": {"type": "point", "shape": "triangle-down", "filled": true, "color": "#000", "size": 18, "opacity": 1, "yOffset": -2},
        "encoding": {
          "x": {"field": "vol", "type": "quantitative"},
          "y": {"field": "tip", "type": "quantitative"}
        }
      },
      {
        "transform": [{"filter": "datum.tag == 'Vo'"}],
        "mark": {"type": "text", "baseline": "bottom", "font": "Liberation Sans", "fontSize": 11, "color": "#111", "dy": 1},
        "encoding": {
          "x": {"field": "vol", "type": "quantitative"},
          "y": {"field": "top", "type": "quantitative"},
          "text": {"field": "tag"}
        }
      },
      {
        "transform": [{"filter": "datum.tag == 'Vt'"}],
        "mark": {"type": "text", "baseline": "bottom", "align": "right", "font": "Liberation Sans", "fontSize": 11, "color": "#111", "dy": 1, "dx": 3},
        "encoding": {
          "x": {"field": "vol", "type": "quantitative"},
          "y": {"field": "top", "type": "quantitative"},
          "text": {"field": "tag"}
        }
      }
    ]
  },
  "config": {
    "view": {"stroke": "#111", "strokeWidth": 1.4},
    "axis": {
      "domain": false, "grid": false, "tickSize": 5, "tickColor": "#111", "tickWidth": 1.2,
      "labelFont": "Liberation Sans", "labelFontSize": 14, "labelColor": "#222"
    }
  }
}
